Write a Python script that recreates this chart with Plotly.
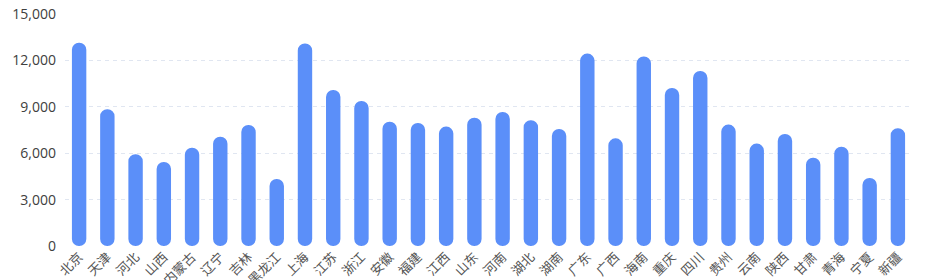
import plotly.graph_objects as go

provinces = ["北京", "天津", "河北", "山西", "内蒙古", "辽宁", "吉林", "黑龙江", "上海", "江苏",
             "浙江", "安徽", "福建", "江西", "山东", "河南", "湖北", "湖南", "广东", "广西",
             "海南", "重庆", "四川", "贵州", "云南", "陕西", "甘肃", "青海", "宁夏", "新疆"]
values = [13140, 8840, 5930, 5430, 6360, 7070, 7820, 4330, 13100, 10090,
          9380, 8040, 7950, 7720, 8300, 8660, 8130, 7570, 12440, 6960,
          12260, 10220, 11320, 7850, 6620, 7240, 5710, 6420, 4400, 7610]
y_ticks = [0, 3000, 6000, 9000, 12000, 15000]
y_tick_labels = ["0", "3,000", "6,000", "9,000", "12,000", "15,000"]

BAR = "#5B8FF9"

fig = go.Figure()
fig.add_trace(go.Bar(x=provinces, y=values, base=[0] * len(values),
                     marker=dict(color=BAR, line=dict(width=0), cornerradius=7),
                     width=0.51, hoverinfo="skip", showlegend=False))

fig.update_layout(
    width=930, height=280,
    margin=dict(l=65, r=18, t=14, b=34, autoexpand=False),
    plot_bgcolor="white", paper_bgcolor="white",
    font=dict(family="Noto Sans CJK SC, sans-serif", size=13, color="#555555"),
    xaxis=dict(type="category", categoryorder="array", categoryarray=provinces,
               tickangle=-45, showgrid=False, showline=False, ticks="", automargin=False,
               tickfont=dict(family="Noto Sans CJK SC", size=13, color="#555555")),
    yaxis=dict(range=[0, 15000], tickvals=y_ticks, ticktext=y_tick_labels, automargin=False,
               showgrid=True, gridcolor="#E0E6F1", griddash="4px,4px", gridwidth=1,
               zeroline=False, showline=False, ticks="", ticklabelstandoff=8,
               tickfont=dict(family="Open Sans", size=14, color="#404040")),
)

fig.write_html("out.html")
